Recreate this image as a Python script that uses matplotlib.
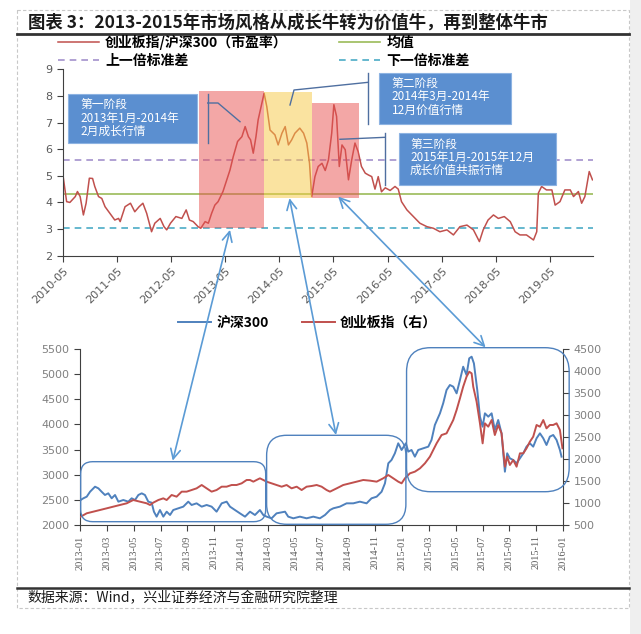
import matplotlib
matplotlib.use("Agg")
import matplotlib.pyplot as plt
from matplotlib.patches import Rectangle, FancyBboxPatch, ConnectionPatch

plt.rcParams['font.family'] = ['Noto Sans CJK SC', 'DejaVu Sans']

W, H = 641, 634

# ---- top chart: ChiNext / CSI300 PE ratio (x in decimal years) ----
pe_year = [2010.34, 2010.40, 2010.46, 2010.56, 2010.60, 2010.65, 2010.71, 2010.76, 2010.82, 2010.88,
           2010.92, 2010.99, 2011.05, 2011.11, 2011.20, 2011.29, 2011.36, 2011.39, 2011.48, 2011.58,
           2011.66, 2011.74, 2011.81, 2011.88, 2011.97, 2012.03, 2012.13, 2012.20, 2012.25, 2012.32,
           2012.42, 2012.53, 2012.61, 2012.67, 2012.74, 2012.83, 2012.88, 2012.96, 2013.02, 2013.08,
           2013.14, 2013.20, 2013.29, 2013.36, 2013.42, 2013.48, 2013.56, 2013.64, 2013.70, 2013.76,
           2013.80, 2013.85, 2013.90, 2013.94, 2014.01, 2014.05, 2014.10, 2014.16, 2014.25, 2014.31,
           2014.38, 2014.44, 2014.50, 2014.56, 2014.62, 2014.71, 2014.78, 2014.84, 2014.89, 2014.93,
           2014.99, 2015.05, 2015.12, 2015.18, 2015.24, 2015.30, 2015.34, 2015.39, 2015.44, 2015.49,
           2015.55, 2015.61, 2015.67, 2015.73, 2015.79, 2015.85, 2015.92, 2015.98, 2016.04, 2016.10,
           2016.16, 2016.22, 2016.29, 2016.38, 2016.47, 2016.53, 2016.59, 2016.69, 2016.81, 2016.93,
           2017.06, 2017.18, 2017.30, 2017.43, 2017.55, 2017.67, 2017.80, 2017.92, 2018.03, 2018.10,
           2018.19, 2018.29, 2018.38, 2018.49, 2018.60, 2018.69, 2018.78, 2018.90, 2019.03, 2019.09,
           2019.12, 2019.18, 2019.27, 2019.37, 2019.43, 2019.52, 2019.61, 2019.71, 2019.77, 2019.86,
           2019.92, 2019.98, 2020.06, 2020.12]
pe_value = [4.91, 4.03, 4.00, 4.22, 4.41, 4.22, 3.53, 3.97, 4.91, 4.90,
            4.60, 4.22, 4.15, 3.84, 3.59, 3.34, 3.40, 3.28, 3.84, 3.97,
            3.65, 3.84, 3.97, 3.59, 2.90, 3.22, 3.40, 3.09, 2.97, 3.22,
            3.47, 3.40, 3.72, 3.34, 3.28, 3.09, 3.03, 3.28, 3.22, 3.59,
            3.90, 4.03, 4.41, 4.85, 5.22, 5.72, 6.29, 6.47, 6.85, 6.47,
            6.35, 5.85, 6.47, 7.10, 7.73, 8.10, 7.60, 6.72, 6.54, 6.16,
            6.60, 6.85, 6.16, 6.35, 6.60, 6.79, 6.60, 6.23, 5.47, 4.22,
            4.97, 5.35, 5.47, 5.20, 5.60, 6.60, 7.67, 7.23, 5.35, 6.16,
            5.98, 4.85, 5.60, 6.23, 5.90, 5.35, 5.10, 5.03, 4.97, 4.50,
            4.97, 4.40, 4.55, 4.45, 4.60, 4.50, 4.03, 3.72, 3.47, 3.22,
            3.09, 3.03, 2.90, 2.97, 2.78, 3.09, 3.15, 2.97, 2.53, 2.97,
            3.34, 3.53, 3.40, 3.47, 3.28, 2.90, 2.78, 2.78, 2.59, 2.90,
            4.35, 4.60, 4.47, 4.47, 3.90, 4.03, 4.47, 4.47, 4.22, 4.41,
            3.97, 4.22, 5.16, 4.85]
pe_mean = 4.32
pe_upper = 5.60
pe_lower = 3.05
year_ticks = [2010.333 + k for k in range(10)]
year_labels = ['2010-05', '2011-05', '2012-05', '2013-05', '2014-05',
               '2015-05', '2016-05', '2017-05', '2018-05', '2019-05']

# phase blocks
phase_start = [2012.85, 2014.04, 2014.93]
phase_end = [2014.04, 2014.93, 2015.81]
phase_low = [3.03, 4.17, 4.18]
phase_high = [8.20, 8.13, 7.74]
phase_color = ['#E8504F', '#F7C842', '#E8504F']

# ---- bottom chart: months since 2013-01 ----
csi_month = [0.05, 0.25, 0.50, 0.75, 1.12, 1.37, 1.61, 1.86, 2.11, 2.36, 2.61, 2.86, 3.23, 3.60, 3.85,
             4.10, 4.35, 4.60, 4.84, 5.09, 5.34, 5.51, 5.71, 5.96, 6.21, 6.46, 6.71, 6.95, 7.33, 7.70,
             8.07, 8.32, 8.69, 9.07, 9.44, 9.81, 10.18, 10.56, 10.93, 11.18, 11.55, 11.92, 12.30, 12.67,
             13.04, 13.41, 13.66, 13.91, 14.28, 14.65, 15.28, 15.52, 15.90, 16.39, 16.89, 17.39, 17.88,
             18.26, 18.63, 18.88, 19.37, 19.87, 20.37, 20.86, 21.36, 21.73, 22.11, 22.48, 22.73, 22.98,
             23.22, 23.47, 23.72, 23.97, 24.29, 24.47, 24.71, 24.96, 25.21, 25.58, 25.96, 26.20, 26.45,
             26.83, 27.07, 27.32, 27.57, 27.82, 28.07, 28.32, 28.56, 28.81, 29.01, 29.19, 29.36, 29.61,
             29.81, 30.01, 30.18, 30.43, 30.68, 30.92, 31.17, 31.42, 31.67, 31.84, 32.04, 32.29, 32.54,
             32.79, 33.04, 33.28, 33.53, 33.78, 34.03, 34.28, 34.53, 34.77, 35.02, 35.27, 35.52, 35.77,
             35.89]
csi_value = [2497, 2531, 2563, 2662, 2762, 2729, 2662, 2597, 2630, 2531, 2597, 2464, 2497, 2464, 2531,
             2497, 2597, 2630, 2597, 2464, 2444, 2265, 2166, 2298, 2166, 2265, 2199, 2298, 2332, 2365,
             2464, 2398, 2431, 2365, 2398, 2365, 2265, 2431, 2464, 2365, 2298, 2232, 2166, 2265,
             2199, 2298, 2199, 2166, 2133, 2232, 2265, 2166, 2133, 2166, 2133, 2166, 2133,
             2199, 2298, 2332, 2365, 2431, 2431, 2464, 2431, 2531, 2563, 2662, 2829, 3227,
             3293, 3426, 3625, 3492, 3625, 3459, 3492, 3359, 3492, 3525, 3558, 3691, 3989,
             4221, 4420, 4684, 4784, 4751, 4618, 4883, 5148, 4983, 5314, 5347, 5214, 4684,
             4154, 3955, 4221, 4154, 4221, 3889, 4088, 3823, 3060, 3426, 3326, 3293, 3227,
             3326, 3426, 3558, 3625, 3558, 3724, 3823, 3724, 3591, 3757, 3790, 3691, 3492,
             3359]
cyb_month = [0.05, 0.50, 0.99, 1.49, 1.99, 2.48, 2.98, 3.48, 3.97, 4.47, 4.97, 5.22, 5.46, 5.84, 6.21,
             6.46, 6.83, 7.20, 7.58, 7.95, 8.32, 8.69, 9.07, 9.44, 9.81, 10.18, 10.56, 10.93, 11.30,
             11.67, 12.05, 12.42, 12.67, 12.92, 13.16, 13.41, 13.66, 13.91, 14.28, 14.65, 15.03, 15.40,
             15.77, 16.15, 16.52, 16.89, 17.26, 17.64, 18.01, 18.38, 18.63, 19.13, 19.62, 20.12, 20.62,
             21.11, 21.61, 22.11, 22.60, 22.98, 23.35, 23.72, 23.97, 24.22, 24.59, 24.96, 25.34, 25.71,
             26.08, 26.33, 26.58, 26.95, 27.32, 27.57, 27.82, 28.07, 28.32, 28.56, 28.81, 29.01, 29.19,
             29.31, 29.56, 29.81, 30.01, 30.18, 30.43, 30.68, 30.92, 31.17, 31.42, 31.67, 31.84, 32.04,
             32.29, 32.54, 32.79, 33.04, 33.28, 33.53, 33.78, 34.03, 34.28, 34.53, 34.77, 35.02, 35.27,
             35.52, 35.77, 35.96]
cyb_value = [689, 766, 803, 841, 879, 917, 955, 993, 1068, 1030, 993, 955, 1008, 1068, 1106,
             1068, 1182, 1144, 1258, 1258, 1295, 1333, 1409, 1333, 1258, 1295, 1371, 1371, 1409,
             1409, 1447, 1523, 1523, 1485, 1523, 1561, 1523, 1485, 1447, 1409, 1371, 1409,
             1333, 1371, 1295, 1371, 1386, 1409, 1371, 1295, 1258, 1333, 1409, 1447, 1485,
             1523, 1508, 1485, 1561, 1636, 1561, 1485, 1447, 1561, 1674, 1712, 1788, 1902,
             2053, 2205, 2356, 2545, 2583, 2734, 2886, 3114, 3379, 3643, 3870, 3984, 3946,
             3643, 3303, 2811, 2356, 2811, 2734, 2886, 2545, 2772, 2583, 1825, 2053, 1864,
             1977, 1825, 2129, 2129, 2242, 2393, 2507, 2773, 2734, 2886, 2697, 2773, 2773,
             2811, 2659, 2243]
month_ticks = list(range(0, 37, 2))
month_labels = ['2013-01', '2013-03', '2013-05', '2013-07', '2013-09', '2013-11',
                '2014-01', '2014-03', '2014-05', '2014-07', '2014-09', '2014-11',
                '2015-01', '2015-03', '2015-05', '2015-07', '2015-09', '2015-11', '2016-01']

# rounded frames on the bottom chart (month range, left-axis range, corner radius px)
frame_m0 = [0.05, 13.91, 24.34]
frame_m1 = [13.84, 24.29, 36.46]
frame_v0 = [2066, 2014, 2662]
frame_v1 = [3259, 3784, 5526]
frame_r = [12, 20, 24]

# arrows: top chart (year, pe) <-> bottom chart (month, csi level)
arrow_top = [(2013.42, 2.97), (2014.52, 4.16), (2015.42, 4.22)]
arrow_bottom = [(6.91, 3279), (19.08, 3790), (30.23, 5533)]

title = '图表 3：2013-2015年市场风格从成长牛转为价值牛，再到整体牛市'
source = '数据来源：Wind，兴业证券经济与金融研究院整理'

RED = '#C0504D'
BLUE = '#4F81BD'
GRAY = '#595959'

fig = plt.figure(figsize=(W / 100, H / 100), dpi=100)
fig.patch.set_facecolor('white')


def px_axes(left, top, right, bottom):
    return fig.add_axes([left / W, 1 - bottom / H, (right - left) / W, (bottom - top) / H])


def to_px(ax, x, y):
    dx, dy = ax.transData.transform((x, y))
    return dx, H - dy


# ---------- top chart ----------
ax1 = px_axes(63, 69.3, 593, 255.7)
ax1.set_xlim(2010.333, 2020.13)
ax1.set_ylim(2, 9)
h_mean = ax1.axhline(pe_mean, color='#9BBB59', lw=1.2, zorder=1)
h_up = ax1.axhline(pe_upper, color='#A391CC', lw=1.2, ls=(0, (4, 3)), zorder=1)
h_low = ax1.axhline(pe_lower, color='#4BACC6', lw=1.2, ls=(0, (4, 3)), zorder=1)
h_pe, = ax1.plot(pe_year, pe_value, color=RED, lw=1.1, zorder=2)
for s, e, lo, hi, c in zip(phase_start, phase_end, phase_low, phase_high, phase_color):
    ax1.fill_between([s, e], lo, hi, color=c, alpha=0.5, lw=0, zorder=3)

for side in ['top', 'right']:
    ax1.spines[side].set_visible(False)
for side in ['left', 'bottom']:
    ax1.spines[side].set_color('#404040')
ax1.set_yticks(range(2, 10))
ax1.set_xticks(year_ticks)
ax1.set_xticklabels(year_labels, rotation=45, ha='right', rotation_mode='anchor')
ax1.tick_params(direction='out', length=4, colors='#404040', labelcolor=GRAY, labelsize=8)
ax1.tick_params(axis='x', labelsize=8)
for lab in ax1.get_xticklabels() + ax1.get_yticklabels():
    lab.set_family('DejaVu Sans')

leg_prop = {'family': ['Noto Sans CJK SC', 'DejaVu Sans'], 'size': 10, 'weight': 'bold'}
fig.legend([h_pe, h_up, h_mean, h_low],
           ['创业板指/沪深300（市盈率）', '上一倍标准差', '均值', '下一倍标准差'],
           ncol=2, loc='upper left', bbox_to_anchor=(58 / W, 1 - 35 / H),
           frameon=False, prop=leg_prop, handlelength=2.95, handletextpad=0.45,
           columnspacing=3.7, labelspacing=0.3, borderaxespad=0, borderpad=0)

# ---------- bottom chart ----------
ax2 = px_axes(80, 349, 563, 525)
ax2.set_xlim(0, 36)
ax2.set_ylim(2000, 5500)
ax2.set_yticks(range(2000, 5501, 500))
ax3 = ax2.twinx()
ax3.set_ylim(500, 4500)
ax3.set_yticks(range(500, 4501, 500))
l_csi, = ax2.plot(csi_month, csi_value, color=BLUE, lw=1.4)
l_cyb, = ax3.plot(cyb_month, cyb_value, color=RED, lw=1.4)

ax2.spines['top'].set_visible(False)
ax2.spines['right'].set_visible(False)
for side in ['top', 'left', 'bottom']:
    ax3.spines[side].set_visible(False)
for sp in [ax2.spines['left'], ax2.spines['bottom'], ax3.spines['right']]:
    sp.set_color('#404040')
ax2.set_xticks(month_ticks)
ax2.set_xticklabels(month_labels, rotation=90, family='Liberation Serif', fontsize=7.5)
ax2.tick_params(direction='out', length=4, colors='#404040', labelcolor=GRAY)
ax2.tick_params(axis='y', labelsize=8, labelcolor='#808080')
ax3.tick_params(direction='out', length=4, colors='#404040', labelsize=8, labelcolor='#808080')
for lab in ax2.get_yticklabels() + ax3.get_yticklabels():
    lab.set_family('DejaVu Sans')

fig.legend([l_csi, l_cyb], ['沪深300', '创业板指（右）'], ncol=2, loc='upper left',
           bbox_to_anchor=(178 / W, 1 - 316 / H), frameon=False, prop=leg_prop,
           handlelength=2.4, handletextpad=0.35, columnspacing=2.4, borderaxespad=0, borderpad=0)

# ---------- overlay in pixel coordinates ----------
ov = fig.add_axes([0, 0, 1, 1], zorder=5)
ov.set_xlim(0, W)
ov.set_ylim(H, 0)
ov.axis('off')

ov.add_patch(Rectangle((630, 0), 11, H, fc='#EFEFEF', ec='none'))
ov.add_patch(Rectangle((17, 10), 612, 598, fill=False, ec='#C8C8C8', lw=0.8, ls=(0, (3, 2))))
ov.plot([17, 629], [34.3, 34.3], color='#333333', lw=2)
ov.plot([17, 629], [587.7, 587.7], color='#333333', lw=1.8)
ov.text(28, 22.5, title, fontsize=12.5, fontweight='bold', va='center', color='#1A1A1A')
ov.text(27, 598.5, source, fontsize=10, va='center', color='#1A1A1A')

boxes = [
    ((67.7, 94, 196.7, 143.3), ['第一阶段', '2013年1月-2014年', '2月成长行情'], 80, [104.5, 118, 131.5]),
    ((379.3, 72.7, 511, 124), ['第二阶段', '2014年3月-2014年', '12月价值行情'], 391.7, [83.3, 96.7, 110]),
    ((399, 133.3, 556, 185), ['第三阶段', '2015年1月-2015年12月', '成长价值共振行情'], 410, [144, 157.3, 170.5]),
]
for (x0, y0, x1, y1), lines, tx, tys in boxes:
    ov.add_patch(Rectangle((x0, y0), x1 - x0, y1 - y0, fc='#5B8FD0', ec='#8DB3E2', lw=0.8))
    for txt, ty in zip(lines, tys):
        ov.text(tx, ty, txt, color='white', fontsize=8.5, va='center')

callouts = [
    [(207.7, 94), (207.7, 143.3)], [(207.7, 103), (218, 103), (240, 121.7)],
    [(368.3, 72.7), (368.3, 124)], [(368.3, 82.3), (294, 90), (290, 105)],
    [(385.3, 133.3), (385.3, 185)], [(385.3, 137.3), (340, 139.3)],
]
for pts in callouts:
    ov.plot([p[0] for p in pts], [p[1] for p in pts], color='#4F6FA0', lw=1)

for m0, m1, v0, v1, r in zip(frame_m0, frame_m1, frame_v0, frame_v1, frame_r):
    x0, y0 = to_px(ax2, m0, v1)
    x1, y1 = to_px(ax2, m1, v0)
    ov.add_patch(FancyBboxPatch((x0, y0), x1 - x0, y1 - y0,
                                boxstyle=f'round,pad=0,rounding_size={r}',
                                fill=False, ec=BLUE, lw=1))

for (xa, ya), (xb, yb) in zip(arrow_top, arrow_bottom):
    con = ConnectionPatch(xyA=(xa, ya), coordsA=ax1.transData,
                          xyB=(xb, yb), coordsB=ax2.transData,
                          arrowstyle='<->,head_length=0.5,head_width=0.25',
                          mutation_scale=14, color='#5B9BD5', lw=1.2, zorder=6)
    fig.add_artist(con)

fig.savefig('out.png', dpi=100)
